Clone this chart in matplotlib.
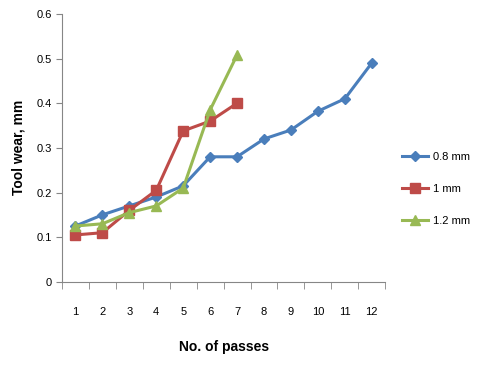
import matplotlib.pyplot as plt
import numpy as np

passes = [str(i) for i in range(1, 13)]
wear_08 = [0.125, 0.15, 0.17, 0.19, 0.215, 0.28, 0.28, 0.32, 0.34, 0.382, 0.41, 0.49]
wear_10 = [0.105, 0.11, 0.16, 0.205, 0.338, 0.36, 0.40]
wear_12 = [0.125, 0.13, 0.155, 0.17, 0.21, 0.385, 0.508]
labels = ['0.8 mm', '1 mm', '1.2 mm']

plt.rcParams['font.family'] = ['Liberation Sans', 'DejaVu Sans']

fig = plt.figure(figsize=(4.92, 3.66), dpi=100)
ax = fig.add_axes([0.126, 0.23, 0.657, 0.732])

x = np.arange(1, len(passes) + 1)
ax.plot(x[:len(wear_08)], wear_08, color='#4a7ebb', marker='D', markersize=5.5,
        linewidth=2.2, label=labels[0])
ax.plot(x[:len(wear_10)], wear_10, color='#be4b48', marker='s', markersize=7,
        linewidth=2.2, label=labels[1])
ax.plot(x[:len(wear_12)], wear_12, color='#98b954', marker='^', markersize=7.5,
        linewidth=2.2, label=labels[2])

ax.set_xlim(0.5, 12.5)
ax.set_ylim(0, 0.6)
ax.set_yticks(np.arange(0, 0.61, 0.1))
ax.set_yticklabels(['0', '0.1', '0.2', '0.3', '0.4', '0.5', '0.6'])
ax.set_xticks(x)
ax.set_xticklabels(passes)
ax.set_xticks(np.arange(0.5, 13, 1), minor=True)
ax.tick_params(axis='x', which='major', length=0, pad=18, labelsize=8)
ax.tick_params(axis='x', which='minor', length=5, direction='out', color='#868686')
ax.tick_params(axis='y', length=4, direction='out', color='#868686', labelsize=8)

for s in ['top', 'right']:
    ax.spines[s].set_visible(False)
for s in ['left', 'bottom']:
    ax.spines[s].set_color('#868686')

ax.set_ylabel('Tool wear, mm', fontsize=10, fontweight='bold', labelpad=8)
ax.set_xlabel('No. of passes', fontsize=10, fontweight='bold', labelpad=17)

ax.legend(loc='center left', bbox_to_anchor=(1.02, 0.347), frameon=False,
          fontsize=8, handlelength=2.4, labelspacing=1.95, handletextpad=0.4)

fig.savefig('out.png', dpi=100)
